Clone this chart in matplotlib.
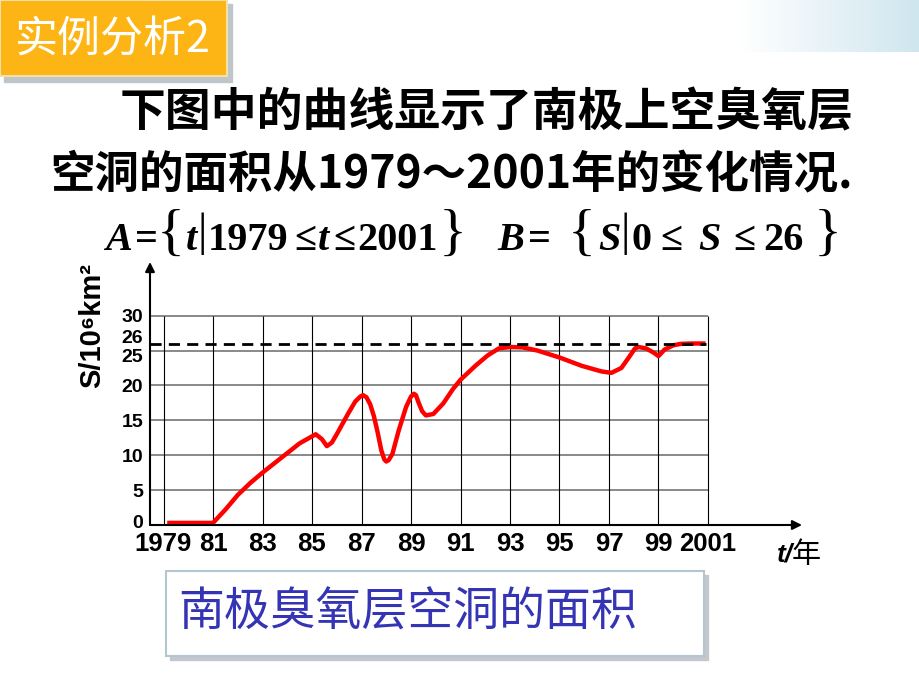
import matplotlib
matplotlib.use("Agg")
import matplotlib.pyplot as plt
from matplotlib.patches import Rectangle
from matplotlib.transforms import ScaledTranslation
import numpy as np

# ozone hole area (year, 10^6 km^2)
years = [1979.15, 1980, 1981, 1981.5, 1982, 1982.5, 1983, 1983.5, 1984, 1984.5,
         1985, 1985.15, 1985.4, 1985.6, 1985.8, 1986.0, 1986.45, 1986.75, 1986.95,
         1987.06, 1987.2, 1987.35, 1987.5, 1987.65, 1987.8, 1987.92, 1988.0, 1988.1,
         1988.25, 1988.5, 1988.8, 1989.0, 1989.12, 1989.2, 1989.3, 1989.45, 1989.6,
         1989.9, 1990.3, 1990.7, 1991.0, 1991.6, 1992.1, 1992.55, 1993.0, 1993.5,
         1994.1, 1995.0, 1995.9, 1996.7, 1997.1, 1997.5, 1997.8, 1998.05, 1998.2,
         1998.5, 1998.8, 1999.0, 1999.25, 1999.6, 1999.9, 2000.3, 2000.9]
area = [0.3, 0.3, 0.3, 2.2, 4.3, 6.0, 7.5, 8.9, 10.3, 11.7,
        12.7, 13.0, 12.3, 11.3, 11.8, 13.0, 15.9, 17.7, 18.4,
        18.6, 18.3, 17.3, 15.6, 13.3, 10.7, 9.4, 9.1, 9.3,
        10.2, 13.5, 16.9, 18.4, 18.8, 18.6, 17.6, 16.3, 15.7,
        15.9, 17.4, 19.5, 20.8, 22.8, 24.3, 25.3, 25.5, 25.45,
        25.0, 24.0, 22.8, 22.0, 21.8, 22.5, 24.0, 25.3, 25.5,
        25.3, 24.7, 24.2, 25.15, 25.75, 25.95, 26.0, 26.0]

x_ticks = [1979, 1981, 1983, 1985, 1987, 1989, 1991, 1993, 1995, 1997, 1999, 2001]
x_labels = ['1979', '81', '83', '85', '87', '89', '91', '93', '95', '97', '99', '2001']
y_ticks = [0, 5, 10, 15, 20, 25, 26, 30]
grid_y = [0, 5, 10, 15, 20, 25, 30]
limit = 26

W, H = 920, 690
fig = plt.figure(figsize=(W / 100, H / 100), dpi=100)
fig.patch.set_facecolor('white')

cjk = ['Noto Sans CJK SC', 'DejaVu Sans']
serif = ['Liberation Serif', 'DejaVu Serif']

# background layer in pixel coordinates
bg = fig.add_axes([0, 0, 1, 1])
bg.set_xlim(0, W)
bg.set_ylim(H, 0)
bg.axis('off')

grad = np.linspace(0, 1, 200).reshape(1, -1)
cmap = matplotlib.colors.LinearSegmentedColormap.from_list('tb', ['#ffffff', '#cfe6ef'])
bg.imshow(grad, extent=[740, 920, 52, 0], cmap=cmap, aspect='auto', zorder=0)

# title badge
bg.add_patch(Rectangle((4, 4), 228, 78, color='#bfc6ca', zorder=1))
bg.add_patch(Rectangle((0, 0), 227, 76, facecolor='#fdb515', edgecolor='#f3e2a8', lw=1.5, zorder=2))
bg.text(113, 40, '实例分析2', fontsize=31, color='white', family=cjk,
        ha='center', va='center', zorder=3)

bg.text(120, 113, '下图中的曲线显示了南极上空臭氧层', fontsize=33, weight='bold',
        family=cjk, ha='left', va='center')
bg.text(50, 175, '空洞的面积从1979～2001年的变化情况.', fontsize=32, weight='bold',
        family=cjk, ha='left', va='center')

# set notation line, one piece at a time (braces centred on x)
pieces = [('A', 105, 'it', 29), ('=', 135, 'b', 29), ('{', 171, 'br', 42), ('t', 186, 'it', 29),
          ('|', 198, 'bar', 34), ('1979', 208, 'b', 29), ('≤', 294, 'b', 29), ('t', 318, 'it', 29),
          ('≤', 333, 'b', 29), ('2001', 357, 'b', 29), ('}', 453, 'br', 42),
          ('B', 497, 'it', 29), ('=', 528, 'b', 29), ('{', 582, 'br', 42), ('S', 598, 'it', 29),
          ('|', 621, 'bar', 34), ('0', 632, 'b', 29), ('≤', 660, 'b', 29), ('S', 698, 'it', 29),
          ('≤', 733, 'b', 29), ('26', 763, 'b', 29), ('}', 828, 'br', 42)]
for s, x, kind, size in pieces:
    if kind == 'it':
        bg.text(x, 250, s, fontsize=size, family=serif, style='italic', weight='bold', va='baseline')
    elif kind == 'b':
        bg.text(x, 250, s, fontsize=size, family=serif, weight='bold', va='baseline')
    elif kind == 'bar':
        bg.text(x, 245, s, fontsize=size, family=serif, va='baseline')
    else:
        bg.text(x, 250, s, fontsize=size, family=serif, va='baseline', ha='center')

# caption box
bg.add_patch(Rectangle((170, 575), 538, 85, color='#c4c8cc', zorder=1))
bg.add_patch(Rectangle((166, 571), 538, 85, facecolor='white', edgecolor='#b3c6cf', lw=1.5, zorder=2))
bg.text(178, 612, '南极臭氧层空洞的面积', fontsize=33, color='#3434b4', family=cjk,
        ha='left', va='center', zorder=3)

# chart
x0 = 1979 - 13.5 / 24.75
x1 = 1979 + (802 - 163.5) / 24.75
ytop = 30 + (315.7 - 262) / 6.993
ax = fig.add_axes([150 / W, 1 - 525 / H, (802 - 150) / W, (525 - 262) / H])
ax.set_xlim(x0, x1)
ax.set_ylim(0, ytop)
ax.patch.set_alpha(0)
for sp in ax.spines.values():
    sp.set_visible(False)

ax.hlines(grid_y, x0, 2001, colors='#6a6a6a', lw=1.1, zorder=1)
ax.vlines(x_ticks, 0, 30, colors='black', lw=0.8, zorder=1)
ax.plot(years, area, color='#ff0000', lw=3.2, solid_capstyle='butt', solid_joinstyle='round', zorder=3)
ax.hlines(limit, x0, 2000.9, colors='black', lw=2, linestyles=(0, (4, 2.6)), zorder=4)

ax.annotate('', xy=(1, 0), xytext=(0, 0), xycoords='axes fraction',
            arrowprops=dict(arrowstyle='-|>', color='black', lw=1.5, mutation_scale=14, shrinkA=0, shrinkB=0))
ax.annotate('', xy=(0, 1), xytext=(0, 0), xycoords='axes fraction',
            arrowprops=dict(arrowstyle='-|>', color='black', lw=1.5, mutation_scale=14, shrinkA=0, shrinkB=0))

ax.set_xticks(x_ticks)
ax.set_xticklabels(x_labels, fontsize=18.5, weight='bold', family='Liberation Sans')
ax.set_yticks(y_ticks)
ax.set_yticklabels([str(v) for v in y_ticks], fontsize=14, weight='bold', family='Liberation Sans')
ax.tick_params(length=0)
ax.tick_params(axis='x', pad=5)
ax.tick_params(axis='y', pad=5)

shift = {26: 7.5, 25: -5, 0: 4}
for v, lab in zip(y_ticks, ax.get_yticklabels()):
    if v in shift:
        lab.set_transform(lab.get_transform() + ScaledTranslation(0, shift[v] / 100, fig.dpi_scale_trans))

bg.text(92, 326, 'S/10⁶km²', rotation=90, fontsize=21, weight='bold',
        family=['Liberation Sans', 'DejaVu Sans'], ha='center', va='center')
bg.text(777, 562, 't/', fontsize=19, weight='bold', style='italic', family='Liberation Sans', va='baseline')
bg.text(792, 563, '年', fontsize=21, family=cjk, va='baseline')

fig.savefig('out.png', dpi=100)
